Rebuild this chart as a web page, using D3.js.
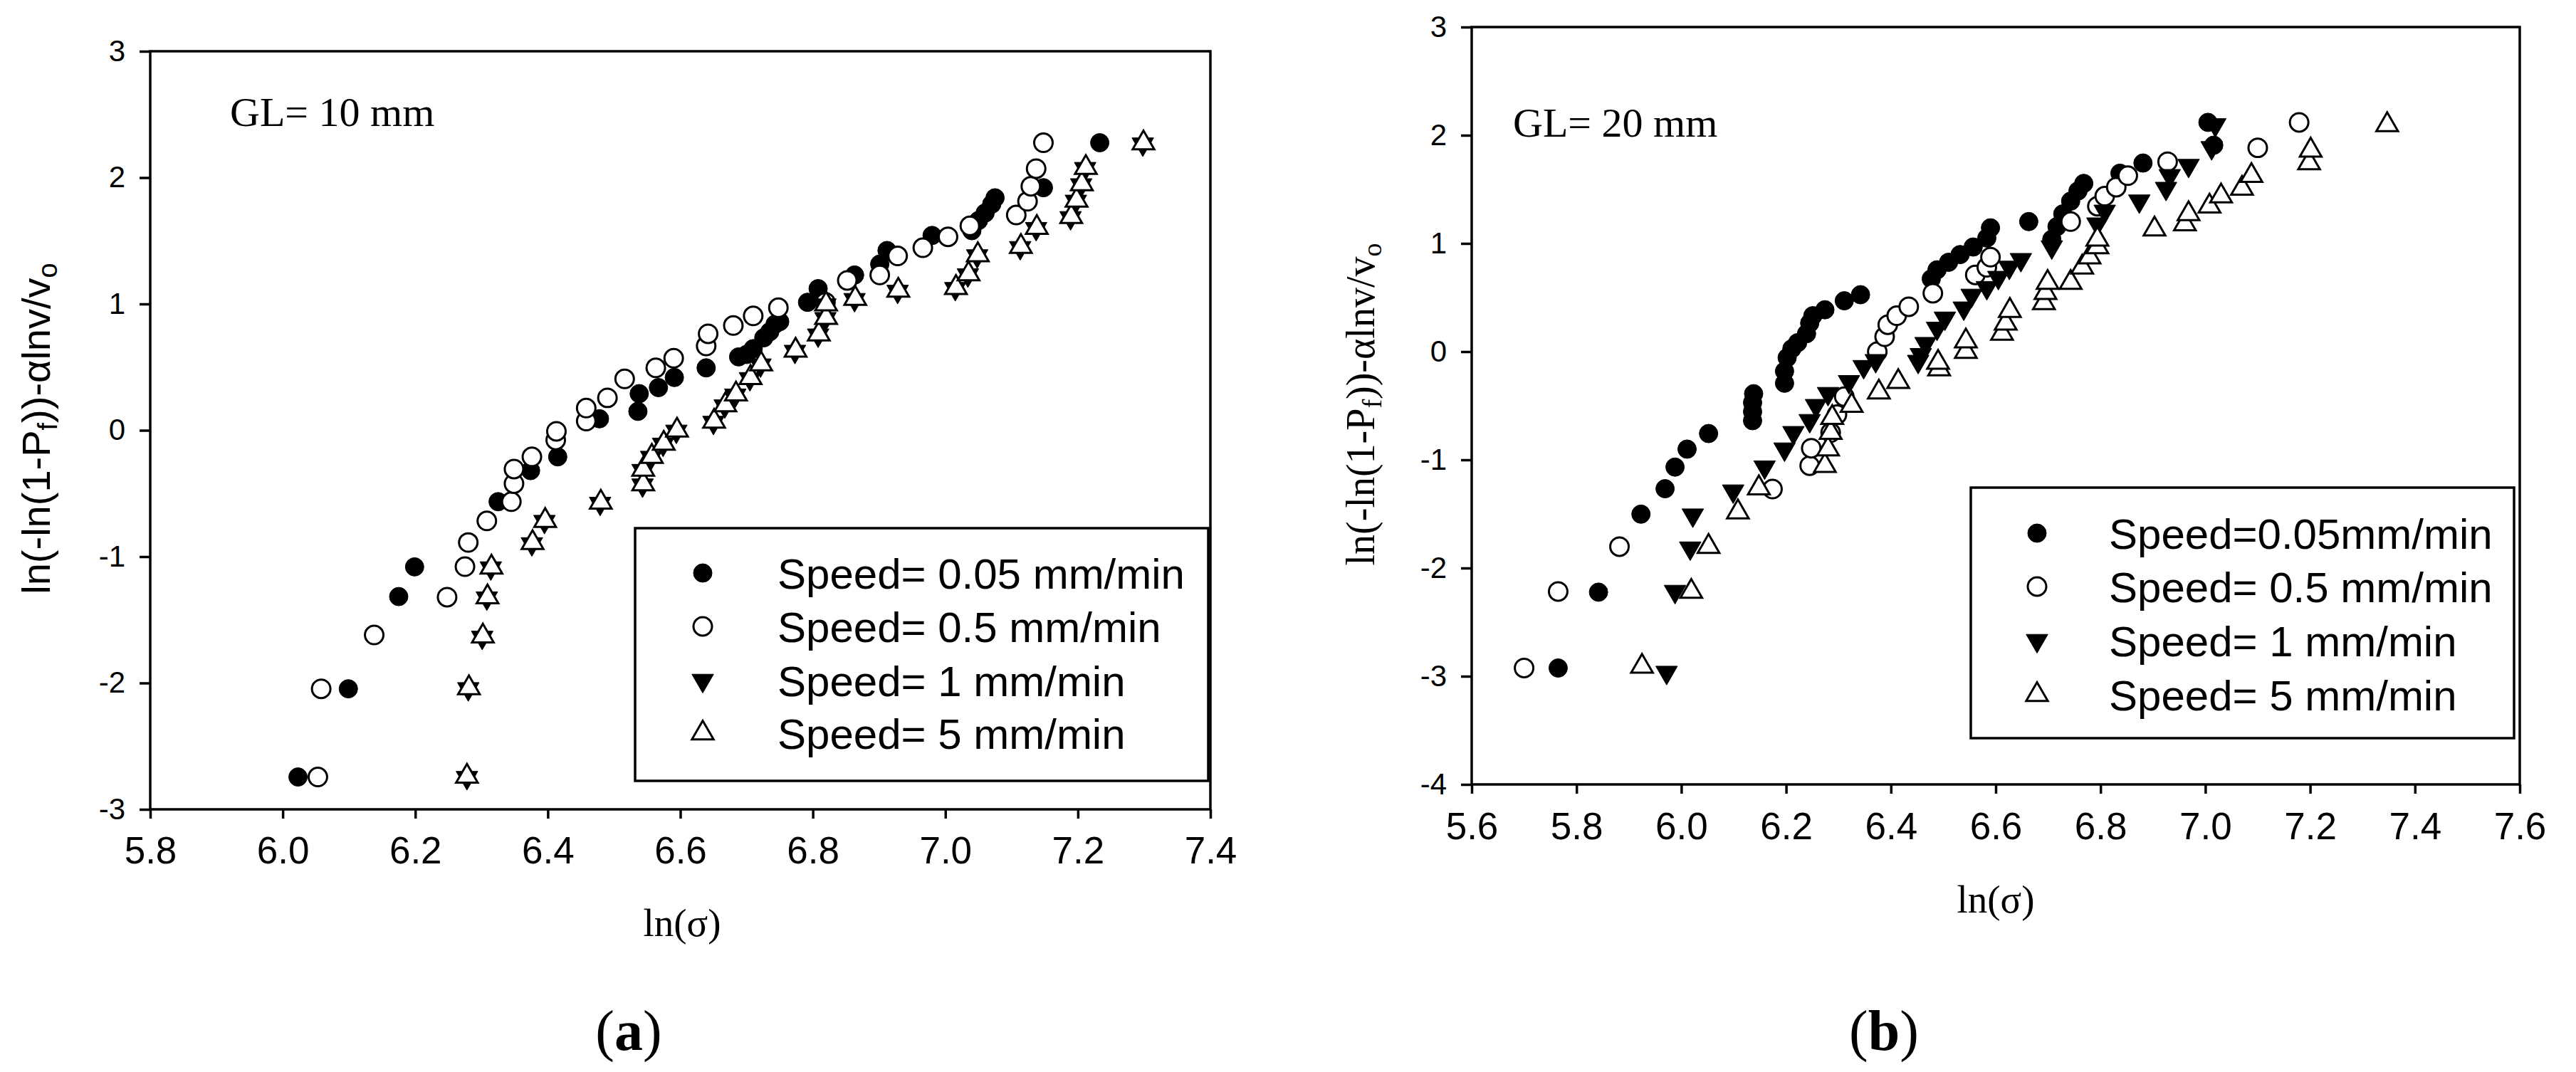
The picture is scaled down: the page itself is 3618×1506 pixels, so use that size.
<!DOCTYPE html>
<html>
<head>
<meta charset="utf-8">
<script src="https://cdn.jsdelivr.net/npm/d3@7"></script>
<style>
  html, body { margin: 0; padding: 0; background: #fff; }
  svg { display: block; }
</style>
</head>
<body>
<svg id="chart"></svg>
<script>
// Weibull-Plots, zwei Panels (GL = 10 mm / GL = 20 mm)

// ---- Daten Panel (a), GL = 10 mm : [ln(sigma), y] ----
const a_v005 = [
  [6.023,-2.744],[6.099,-2.046],[6.175,-1.316],[6.199,-1.081],[6.325,-0.565],[6.374,-0.319],
  [6.415,-0.210],[6.478,0.091],[6.536,0.150],[6.538,0.290],[6.567,0.338],[6.591,0.418],
  [6.639,0.494],[6.688,0.581],[6.700,0.600],[6.710,0.646],[6.726,0.732],[6.735,0.780],
  [6.743,0.840],[6.750,0.860],[6.792,1.013],[6.808,1.121],[6.863,1.229],[6.901,1.315],
  [6.912,1.423],[6.980,1.542],[7.040,1.580],[7.050,1.660],[7.060,1.720],[7.070,1.790],
  [7.075,1.840],[7.148,1.920],[7.233,2.276]
];
const a_v05 = [
  [6.053,-2.744],[6.058,-2.046],[6.138,-1.620],[6.248,-1.321],[6.275,-1.079],[6.280,-0.888],
  [6.308,-0.717],[6.345,-0.565],[6.349,-0.422],[6.349,-0.307],[6.376,-0.210],[6.412,-0.077],
  [6.413,-0.008],[6.458,0.073],[6.458,0.176],[6.490,0.257],[6.516,0.407],[6.563,0.494],
  [6.590,0.570],[6.639,0.667],[6.642,0.764],[6.680,0.829],[6.710,0.905],[6.748,0.970],
  [6.819,1.013],[6.852,1.186],[6.901,1.229],[6.928,1.380],[6.966,1.445],[7.004,1.531],
  [7.037,1.618],[7.107,1.704],[7.124,1.812],[7.129,1.931],[7.137,2.071],[7.148,2.276]
];
const a_v1 = [
  [6.278,-2.749],[6.280,-2.046],[6.301,-1.639],[6.308,-1.328],[6.314,-1.090],[6.376,-0.899],
  [6.395,-0.722],[6.479,-0.579],[6.543,-0.434],[6.543,-0.319],[6.556,-0.215],[6.574,-0.111],
  [6.594,-0.008],[6.650,0.062],[6.667,0.192],[6.683,0.278],[6.705,0.408],[6.721,0.516],
  [6.773,0.624],[6.808,0.753],[6.819,0.883],[6.819,0.991],[6.863,1.034],[6.928,1.099],
  [7.015,1.121],[7.034,1.229],[7.048,1.380],[7.113,1.445],[7.137,1.596],[7.189,1.682],
  [7.197,1.812],[7.205,1.942],[7.211,2.071],[7.298,2.265]
];
const a_v5 = [
  [6.278,-2.740],[6.281,-2.040],[6.302,-1.630],[6.309,-1.320],[6.315,-1.085],[6.377,-0.890],
  [6.396,-0.715],[6.480,-0.570],[6.544,-0.425],[6.544,-0.310],[6.557,-0.208],[6.575,-0.104],
  [6.595,0.000],[6.651,0.070],[6.668,0.200],[6.684,0.286],[6.706,0.416],[6.722,0.524],
  [6.774,0.632],[6.809,0.761],[6.820,0.891],[6.820,0.999],[6.864,1.042],[6.929,1.107],
  [7.016,1.129],[7.035,1.237],[7.049,1.388],[7.114,1.453],[7.138,1.604],[7.190,1.690],
  [7.198,1.820],[7.206,1.950],[7.212,2.079],[7.299,2.273]
];

// ---- Daten Panel (b), GL = 20 mm ----
const b_v005 = [
  [5.765,-2.924],[5.842,-2.223],[5.923,-1.502],[5.969,-1.267],[5.988,-1.067],[6.011,-0.901],
  [6.052,-0.757],[6.136,-0.638],[6.136,-0.555],[6.136,-0.472],[6.138,-0.389],[6.197,-0.292],
  [6.197,-0.181],[6.202,-0.056],[6.211,0.027],[6.222,0.083],[6.239,0.166],[6.245,0.263],
  [6.251,0.332],[6.274,0.387],[6.311,0.470],[6.342,0.526],[6.477,0.673],[6.488,0.756],
  [6.510,0.826],[6.532,0.897],[6.557,0.967],[6.583,1.050],[6.590,1.144],[6.663,1.202],
  [6.707,1.038],[6.717,1.156],[6.728,1.273],[6.743,1.391],[6.757,1.485],[6.768,1.555],
  [6.837,1.649],[6.881,1.743],[7.005,2.119],[7.016,1.908]
];
const b_v05 = [
  [5.700,-2.924],[5.765,-2.217],[5.882,-1.802],[6.174,-1.270],[6.245,-1.054],[6.248,-0.893],
  [6.285,-0.749],[6.297,-0.582],[6.311,-0.416],[6.374,0.000],[6.388,0.138],[6.394,0.249],
  [6.411,0.332],[6.434,0.415],[6.480,0.540],[6.561,0.709],[6.583,0.779],[6.590,0.873],
  [6.743,1.202],[6.794,1.344],[6.808,1.437],[6.830,1.520],[6.852,1.626],[6.928,1.755],
  [7.100,1.884],[7.179,2.119]
];
const b_v1 = [
  [5.972,-2.965],[5.988,-2.217],[6.017,-1.816],[6.022,-1.511],[6.099,-1.289],[6.159,-1.067],
  [6.197,-0.901],[6.214,-0.749],[6.245,-0.638],[6.257,-0.499],[6.280,-0.388],[6.320,-0.278],
  [6.348,-0.139],[6.371,-0.084],[6.452,-0.091],[6.457,-0.028],[6.466,0.074],[6.488,0.215],
  [6.503,0.309],[6.539,0.402],[6.554,0.520],[6.583,0.591],[6.605,0.685],[6.626,0.779],
  [6.648,0.850],[6.707,0.967],[6.794,1.179],[6.808,1.297],[6.874,1.391],[6.925,1.508],
  [6.932,1.626],[6.968,1.720],[7.012,1.884],[7.019,2.096]
];
const b_v5 = [
  [5.925,-2.910],[6.019,-2.217],[6.052,-1.802],[6.108,-1.483],[6.148,-1.261],[6.274,-1.054],
  [6.280,-0.901],[6.285,-0.749],[6.288,-0.610],[6.325,-0.499],[6.377,-0.375],[6.414,-0.278],
  [6.492,-0.161],[6.490,-0.100],[6.543,0.000],[6.543,0.097],[6.612,0.168],[6.619,0.262],
  [6.627,0.379],[6.692,0.450],[6.695,0.544],[6.699,0.638],[6.743,0.638],[6.765,0.779],
  [6.779,0.873],[6.794,0.967],[6.794,1.038],[6.903,1.132],[6.961,1.179],[6.968,1.273],
  [7.008,1.344],[7.030,1.437],[7.070,1.508],[7.088,1.626],[7.198,1.743],[7.201,1.861],
  [7.347,2.096]
];

// Achsen-Ticks und Beschriftungen
const xTicksA = [5.8, 6.0, 6.2, 6.4, 6.6, 6.8, 7.0, 7.2, 7.4];
const yTicksA = [-3, -2, -1, 0, 1, 2, 3];
const xTicksB = [5.6, 5.8, 6.0, 6.2, 6.4, 6.6, 6.8, 7.0, 7.2, 7.4, 7.6];
const yTicksB = [-4, -3, -2, -1, 0, 1, 2, 3];
const legendA = ["Speed= 0.05 mm/min", "Speed= 0.5 mm/min", "Speed= 1 mm/min", "Speed= 5 mm/min"];
const legendB = ["Speed=0.05mm/min", "Speed= 0.5 mm/min", "Speed= 1 mm/min", "Speed= 5 mm/min"];

const W = 3618, H = 1506;
const SANS = "'Liberation Sans', Arial, sans-serif";
const SERIF = "'Liberation Serif', 'Times New Roman', serif";

const svg = d3.select("#chart")
  .attr("width", W)
  .attr("height", H)
  .attr("viewBox", `0 0 ${W} ${H}`);

svg.append("rect").attr("width", W).attr("height", H).attr("fill", "#fff");

// Marker: gefuellter Kreis, offener Kreis, gefuelltes Dreieck (unten), offenes Dreieck
const markerStyles = [
  { type: d3.symbolCircle, size: 530, fill: "#000", stroke: "#000", rot: 0 },
  { type: d3.symbolCircle, size: 530, fill: "#fff", stroke: "#000", rot: 0 },
  { type: d3.symbolTriangle, size: 400, fill: "#000", stroke: "#000", rot: 180 },
  { type: d3.symbolTriangle, size: 400, fill: "#fff", stroke: "#000", rot: 0 }
];

function drawMarker(sel, style) {
  sel.attr("d", d3.symbol().type(style.type).size(style.size)())
    .attr("fill", style.fill)
    .attr("stroke", style.stroke)
    .attr("stroke-width", style.fill === "#fff" ? 3 : 1);
}

function drawPanel(cfg) {
  const g = svg.append("g");
  const f = cfg.frame;

  const x = d3.scaleLinear().domain(cfg.xDomain).range([f.left, f.right]);
  const y = d3.scaleLinear().domain(cfg.yDomain).range([f.bottom, f.top]);

  // Achsen
  const xAxis = g.append("g")
    .attr("transform", `translate(0,${f.bottom})`)
    .call(d3.axisBottom(x).tickValues(cfg.xTicks).tickFormat(d3.format(".1f"))
      .tickSize(13).tickSizeOuter(0).tickPadding(cfg.xPad));
  const yAxis = g.append("g")
    .attr("transform", `translate(${f.left},0)`)
    .call(d3.axisLeft(y).tickValues(cfg.yTicks).tickFormat(d => String(d))
      .tickSize(15).tickSizeOuter(0).tickPadding(20));

  [xAxis, yAxis].forEach(ax => {
    ax.select(".domain").remove();
    ax.selectAll("line").attr("stroke", "#000").attr("stroke-width", 3.5);
    ax.selectAll("text").attr("fill", "#000").attr("font-family", SANS);
  });
  xAxis.selectAll("text").attr("font-size", 53);
  yAxis.selectAll("text").attr("font-size", 42);

  // Rahmen
  g.append("rect")
    .attr("x", f.left)
    .attr("y", f.top)
    .attr("width", f.right - f.left)
    .attr("height", f.bottom - f.top)
    .attr("fill", "none")
    .attr("stroke", "#000")
    .attr("stroke-width", 3.5);

  // Datenpunkte
  cfg.series.forEach((data, i) => {
    const st = markerStyles[i];
    g.append("g").selectAll("path")
      .data(data)
      .enter()
      .append("path")
        .attr("transform", d => `translate(${x(d[0])},${y(d[1])}) rotate(${st.rot})`)
        .call(drawMarker, st);
  });

  // GL-Beschriftung
  g.append("text")
    .attr("x", cfg.gl.x)
    .attr("y", cfg.gl.y)
    .attr("font-family", SERIF)
    .attr("font-size", 58)
    .attr("fill", "#000")
    .text(cfg.gl.text);

  // Legende
  const L = cfg.legend;
  g.append("rect")
    .attr("x", L.x0)
    .attr("y", L.y0)
    .attr("width", L.x1 - L.x0)
    .attr("height", L.y1 - L.y0)
    .attr("fill", "#fff")
    .attr("stroke", "#000")
    .attr("stroke-width", 3.5);

  const rows = g.append("g").selectAll("g")
    .data(cfg.labels)
    .enter()
    .append("g")
      .attr("transform", (d, i) => `translate(0,${L.rowY[i]})`);

  rows.append("path")
    .attr("transform", (d, i) => `translate(${L.markerX},0) rotate(${markerStyles[i].rot})`)
    .each(function(d, i) { d3.select(this).call(drawMarker, markerStyles[i]); });

  rows.append("text")
    .attr("x", L.textX)
    .attr("y", 22)
    .attr("font-family", SANS)
    .attr("font-size", 60)
    .attr("fill", "#000")
    .text(d => d);

  // x-Achsentitel
  g.append("text")
    .attr("x", cfg.xTitle.x)
    .attr("y", cfg.xTitle.y)
    .attr("text-anchor", "middle")
    .attr("font-family", SERIF)
    .attr("font-size", 55)
    .attr("fill", "#000")
    .text("ln(σ)");

  // y-Achsentitel (mit Indizes)
  const yt = g.append("text")
    .attr("transform", `translate(${cfg.yTitle.x},${cfg.yTitle.y}) rotate(-90)`)
    .attr("text-anchor", "middle")
    .attr("font-family", cfg.yTitle.font)
    .attr("font-size", 56)
    .attr("fill", "#000");
  yt.append("tspan").text("ln(-ln(1-P");
  yt.append("tspan").attr("font-size", 38).attr("dy", 10).text("f");
  yt.append("tspan").attr("dy", -10).text("))-αlnv/v");
  yt.append("tspan").attr("font-size", 38).attr("dy", 10).text("o");

  // Panel-Kennung
  const pl = g.append("text")
    .attr("x", cfg.tag.x)
    .attr("y", cfg.tag.y)
    .attr("text-anchor", "middle")
    .attr("font-family", SERIF)
    .attr("font-size", 80)
    .attr("fill", "#000");
  pl.append("tspan").text("(");
  pl.append("tspan").attr("font-weight", "bold").text(cfg.tag.letter);
  pl.append("tspan").text(")");
}

drawPanel({
  frame: { left: 211, right: 1700, top: 72, bottom: 1137 },
  xDomain: [5.8, 7.4],
  yDomain: [-3, 3],
  xTicks: xTicksA,
  yTicks: yTicksA,
  xPad: 25,
  series: [a_v005, a_v05, a_v1, a_v5],
  labels: legendA,
  legend: { x0: 892, y0: 742, x1: 1697, y1: 1097, markerX: 987, textX: 1092, rowY: [805, 880, 956, 1030] },
  gl: { x: 323, y: 177, text: "GL= 10 mm" },
  xTitle: { x: 958, y: 1315 },
  yTitle: { x: 70, y: 602, font: SANS },
  tag: { x: 883, y: 1475, letter: "a" }
});

drawPanel({
  frame: { left: 2067, right: 3539, top: 38, bottom: 1102 },
  xDomain: [5.6, 7.6],
  yDomain: [-4, 3],
  xTicks: xTicksB,
  yTicks: yTicksB,
  xPad: 26,
  series: [b_v005, b_v05, b_v1, b_v5],
  labels: legendB,
  legend: { x0: 2768, y0: 685, x1: 3531, y1: 1037, markerX: 2861, textX: 2962, rowY: [749, 824, 900, 976] },
  gl: { x: 2125, y: 192, text: "GL= 20 mm" },
  xTitle: { x: 2803, y: 1282 },
  yTitle: { x: 1930, y: 568, font: SERIF },
  tag: { x: 2646, y: 1475, letter: "b" }
});
</script>
</body>
</html>
